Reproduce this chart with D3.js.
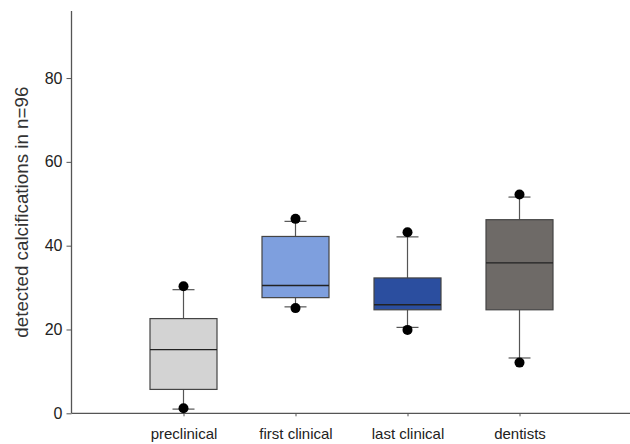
<!DOCTYPE html>
<html>
<head>
<meta charset="utf-8">
<script src="https://cdn.jsdelivr.net/npm/d3@7"></script>
<style>
body{margin:0;background:#fff;}
svg{display:block;font-family:"Liberation Sans",Arial,sans-serif;}
</style>
</head>
<body>
<svg id="chart" width="630" height="444"></svg>
<script>
const categories = ["preclinical","first clinical","last clinical","dentists"];
const q1 =        [5.7, 27.6, 24.7, 24.7];
const medians =   [15.2, 30.5, 25.9, 35.9];
const q3 =        [22.6, 42.2, 32.3, 46.2];
const whiskLow =  [1.0, 25.4, 20.5, 13.2];
const whiskHigh = [29.5, 45.8, 42.1, 51.6];
const outLow =    [1.2, 25.1, 19.9, 12.1];
const outHigh =   [30.3, 46.4, 43.2, 52.2];
const fills = ["#d3d3d3","#7e9fde","#2b4e9f","#6e6a67"];
const yTicks = [0,20,40,60,80];
const yTitle = "detected calcifications in n=96";

const svg = d3.select("#chart");
const x0 = 71.5, yBottom = 413.3, yTop = 11;
const y = d3.scaleLinear().domain([0,96]).range([yBottom, yTop]);
const x = d3.scalePoint().domain(categories).range([x0, 631.5]).padding(1);
const boxW = 67, capW = 22;

// y axis
const yAxis = svg.append("g").attr("transform",`translate(${x0},0)`)
  .call(d3.axisLeft(y).tickValues(yTicks).tickSize(5).tickPadding(4));
yAxis.select(".domain").attr("d",`M0,${y(0)}V${yTop}`).attr("stroke","#555").attr("stroke-width",1.3);
yAxis.selectAll(".tick line").attr("stroke","#555");
yAxis.selectAll(".tick text").attr("font-size",16).attr("fill","#222");

// x axis
const xAxis = svg.append("g").attr("transform",`translate(0,${yBottom})`)
  .call(d3.axisBottom(x).tickSize(3).tickPadding(12));
xAxis.select(".domain").attr("d",`M${x0},0H630`).attr("stroke","#555").attr("stroke-width",1.3);
xAxis.selectAll(".tick line").attr("stroke","#555");
xAxis.selectAll(".tick text").attr("font-size",15).attr("fill","#222");

// y title
svg.append("text")
  .attr("transform",`translate(28,${(y(0)+yTop)/2}) rotate(-90)`)
  .attr("text-anchor","middle")
  .attr("font-size",18.8).attr("fill","#333")
  .text(yTitle);

const g = svg.append("g");
categories.forEach((c,i)=>{
  const cx = x(c);
  // whiskers
  g.append("line").attr("x1",cx).attr("x2",cx).attr("y1",y(q3[i])).attr("y2",y(whiskHigh[i])).attr("stroke","#555").attr("stroke-width",1.2);
  g.append("line").attr("x1",cx).attr("x2",cx).attr("y1",y(q1[i])).attr("y2",y(whiskLow[i])).attr("stroke","#555").attr("stroke-width",1.2);
  [whiskHigh[i], whiskLow[i]].forEach(v=>{
    g.append("line").attr("x1",cx-capW/2).attr("x2",cx+capW/2).attr("y1",y(v)).attr("y2",y(v)).attr("stroke","#555").attr("stroke-width",1.2);
  });
  // box
  g.append("rect").attr("x",cx-boxW/2).attr("width",boxW)
    .attr("y",y(q3[i])).attr("height",y(q1[i])-y(q3[i]))
    .attr("fill",fills[i]).attr("stroke","#444").attr("stroke-width",1.2);
  g.append("line").attr("x1",cx-boxW/2).attr("x2",cx+boxW/2).attr("y1",y(medians[i])).attr("y2",y(medians[i])).attr("stroke","#222").attr("stroke-width",1.3);
  // outliers
  [outHigh[i], outLow[i]].forEach(v=>{
    g.append("circle").attr("cx",cx).attr("cy",y(v)).attr("r",5).attr("fill","#000");
  });
});
</script>
</body>
</html>
